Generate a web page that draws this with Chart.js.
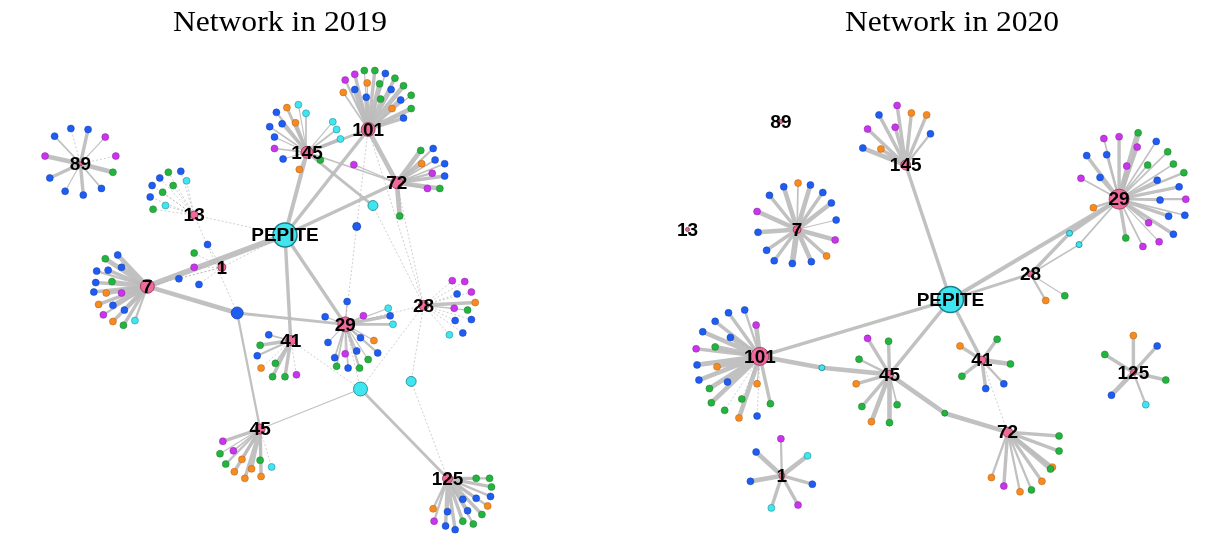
<!DOCTYPE html>
<html><head><meta charset="utf-8">
<script src="https://cdn.jsdelivr.net/npm/chart.js@4.4.0/dist/chart.umd.min.js"></script>
<style>
html,body{margin:0;padding:0;background:#fff;}
#wrap{position:relative;width:1226px;height:547px;display:flex;}
.panel{position:relative;width:613px;height:547px;}
.panel canvas{position:absolute;left:0;top:0;}
.ttl{position:absolute;top:5px;font:29px "Liberation Serif","Times New Roman",serif;color:#000;transform:translateX(-50%) scaleX(1.09);white-space:nowrap;z-index:2;}
</style></head>
<body>
<div id="wrap">
  <div class="panel"><div class="ttl" id="t0"></div><canvas id="c0" width="613" height="547"></canvas></div>
  <div class="panel"><div class="ttl" id="t1"></div><canvas id="c1" width="613" height="547"></canvas></div>
</div>
<script>
const titles=['Network in 2019','Network in 2020'];
const titleX=[280,339];

// nodes: [id, x, y, size, group]   ids starting with ~ are unlabelled
const nodes2019=[
 ['PEPITE',284,233,12,'c'],['89',70,158,2,'h'],['13',189,212,4,'h'],['145',307,146,6,'h'],
 ['101',371,122,7,'h'],['72',401,178,6,'h'],['7',140,287,7,'h'],['1',218,267,4,'h'],
 ['41',290,344,5,'h'],['45',258,437,5,'h'],['29',347,327,7.5,'h'],['28',429,307,5,'h'],
 ['125',454,489,5,'h'],
 ['~b1',234,315,6,'b'],['~c1',363,395,7,'c'],['~c2',416,387,5,'c'],['~c3',376,202,5,'c'],['~b2',359,224,4,'b']
];
// edges between named nodes: [from, to, weight]  weight 0 = weak tie
const edges2019=[
 ['PEPITE','7',5],['PEPITE','145',3.5],['PEPITE','101',3],['PEPITE','72',3],['PEPITE','41',3],['PEPITE','29',3],
 ['7','~b1',4],['~b1','29',2.5],['~b1','45',2],
 ['145','101',2.5],['145','72',1.5],['145','~c3',2.5],['101','72',4],
 ['~c1','125',2.5],['~c1','45',1],
 ['13','PEPITE',0],['13','~b1',0],['1','PEPITE',0],['1','7',0],
 ['101','~b2',0],['~b2','29',0],['~c3','28',0],['72','28',0],['101','28',0],
 ['29','~c1',0],['28','~c1',0],['28','~c2',0],['~c2','125',0],['41','~c1',0],['29','28',0]
];
// leaves: [hub, x, y, group, weight]
const leaves2019=[
 ['89',43,129,'b',1.5],['89',60,121,'b',0],['89',78,122,'b',3],['89',96,130,'p',1],['89',107,150,'p',0],['89',104,167,'g',4],
 ['89',92,184,'b',1.5],['89',73,191,'b',3],['89',54,187,'b',1],['89',38,173,'b',3],['89',33,150,'p',4],
 ['13',162,167,'g',0],['13',175,166,'b',0],['13',181,176,'c',0],['13',153,173,'b',0],['13',167,181,'g',0],
 ['13',145,181,'b',0],['13',156,188,'g',0],['13',143,193,'b',0],['13',159,202,'c',0],['13',146,206,'g',0],
 ['145',275,104,'b',2],['145',286,99,'o',2.5],['145',298,96,'c',1],['145',306,105,'c',1.5],['145',268,119,'b',1.5],
 ['145',281,116,'b',2.5],['145',295,115,'o',3],['145',273,130,'b',1],['145',273,142,'p',1.5],['145',282,153,'b',1],
 ['145',299,164,'o',1],['145',321,154,'g',1.5],['145',334,114,'c',1],['145',338,122,'c',1.5],['145',342,132,'c',3],
 ['101',347,70,'p',2],['101',357,64,'p',3],['101',367,60,'g',1],['101',378,60,'g',3],['101',389,63,'b',1.5],
 ['101',399,68,'g',3],['101',408,76,'g',4],['101',416,86,'g',1],['101',416,100,'g',4],['101',408,110,'b',3],
 ['101',345,83,'o',1.5],['101',357,80,'b',4],['101',370,73,'o',1],['101',383,74,'g',4],['101',395,80,'b',3],
 ['101',405,91,'b',4],['101',396,100,'o',4],['101',384,90,'g',1.5],['101',369,88,'b',4],
 ['72',426,144,'g',4],['72',439,142,'b',2],['72',427,158,'o',3],['72',441,154,'b',1.5],['72',451,158,'b',1.5],
 ['72',438,168,'p',2],['72',451,171,'b',3],['72',433,184,'p',2],['72',446,184,'g',4],['72',404,213,'g',4],['72',356,159,'p',1],
 ['7',96,258,'g',4],['7',109,254,'b',4],['7',87,271,'b',2],['7',99,270,'b',3],['7',113,267,'b',4],['7',86,283,'b',3],
 ['7',103,282,'g',3],['7',84,293,'b',3],['7',97,294,'o',4],['7',113,294,'p',4],['7',89,306,'o',3],['7',104,307,'b',4],
 ['7',116,312,'b',4],['7',94,317,'p',2],['7',104,324,'o',3],['7',115,328,'g',3],['7',127,323,'c',2],
 ['1',203,243,'b',0],['1',189,252,'g',0],['1',189,267,'p',0],['1',173,279,'b',0],['1',194,285,'b',0],
 ['41',267,338,'b',1.5],['41',258,349,'g',3],['41',255,360,'b',2],['41',259,373,'o',0],['41',274,368,'g',1.5],
 ['41',271,382,'g',3],['41',284,382,'g',3],['41',296,380,'p',0],
 ['45',219,450,'p',3],['45',230,460,'p',1.5],['45',216,463,'g',1],['45',222,474,'g',2],['45',239,469,'o',2],
 ['45',231,482,'o',3],['45',242,489,'o',3],['45',249,479,'o',3],['45',258,470,'g',2],['45',259,487,'o',3],['45',270,477,'c',0],
 ['29',349,303,'b',1],['29',326,319,'b',1],['29',366,318,'p',1],['29',392,310,'c',1],['29',394,318,'b',3],
 ['29',397,327,'c',2.5],['29',363,341,'b',1.5],['29',377,344,'o',1],['29',329,346,'b',1],['29',336,362,'b',1.5],
 ['29',347,358,'p',1],['29',359,355,'b',1.5],['29',381,357,'b',2],['29',371,364,'g',1],['29',338,371,'g',1.5],
 ['29',350,373,'b',1.5],['29',362,373,'g',2],
 ['28',459,281,'p',0],['28',472,282,'p',0],['28',464,295,'b',0],['28',479,293,'p',0],['28',483,304,'o',3],
 ['28',461,310,'p',1],['28',475,312,'g',1],['28',462,323,'b',0],['28',479,322,'b',0],['28',470,336,'b',0],['28',456,338,'c',0],
 ['125',484,489,'g',3],['125',498,489,'g',2],['125',500,498,'g',3],['125',484,510,'b',3],['125',499,508,'b',2],
 ['125',470,511,'b',3],['125',496,518,'o',2],['125',439,521,'o',2],['125',475,523,'b',3],['125',490,527,'g',3],
 ['125',454,524,'b',3],['125',440,534,'p',2],['125',470,534,'g',3],['125',481,537,'g',2],['125',452,539,'b',3],['125',462,543,'b',3]
];

const nodes2020=[
 ['PEPITE',339,301,13,'c'],['89',161,113,2,'h'],['13',63,227,2,'h'],['145',292,159,5,'h'],
 ['7',178,227,4,'h'],['29',516,195,10,'h'],['28',423,274,3,'h'],['101',139,361,9,'h'],
 ['45',275,380,4,'h'],['41',372,365,4,'h'],['125',531,378,3,'h'],['72',399,441,5,'h'],['1',162,487,3,'h'],
 ['~c1',204,373,3,'c'],['~g1',333,421,3,'g'],['~c2',464,231,3,'c'],['~c3',474,243,3,'c']
];
const edges2020=[
 ['PEPITE','145',3],['PEPITE','29',3.5],['PEPITE','28',2.5],['PEPITE','101',3],['PEPITE','45',3],['PEPITE','41',3],
 ['101','~c1',4],['~c1','45',4],['45','~g1',4],['~g1','72',4],
 ['28','~c2',3],['~c2','29',3],['28','~c3',1.5],['~c3','29',1.5],['41','72',0]
];
const leaves2020=[
 ['145',283,96,'p',3],['145',264,106,'b',3],['145',298,104,'o',3],['145',314,106,'o',3],['145',252,121,'p',3],
 ['145',281,119,'p',3],['145',318,126,'b',2],['145',247,141,'b',4],['145',266,142,'o',3],
 ['7',179,178,'o',1.5],['7',164,182,'b',4],['7',192,180,'b',4],['7',149,191,'b',3],['7',205,188,'b',3],
 ['7',214,199,'b',4],['7',136,208,'p',4],['7',219,217,'b',1],['7',137,230,'b',4],['7',218,238,'p',4],
 ['7',146,249,'b',3],['7',209,255,'o',3],['7',154,260,'b',3],['7',173,263,'b',5],['7',193,261,'b',4],
 ['29',500,131,'p',1.5],['29',516,129,'p',3],['29',536,125,'g',5],['29',535,140,'p',3],['29',555,134,'b',1.5],
 ['29',482,149,'b',3],['29',503,148,'b',2],['29',524,160,'p',2],['29',546,159,'g',1.5],['29',567,145,'g',1.5],
 ['29',573,158,'g',1.5],['29',584,167,'g',2],['29',476,173,'p',1.5],['29',496,172,'b',3],['29',556,175,'b',2],
 ['29',579,182,'b',3],['29',559,196,'b',2],['29',586,195,'p',2],['29',489,204,'o',2],['29',568,213,'b',3],
 ['29',585,212,'b',1.5],['29',547,220,'p',2],['29',573,232,'b',3],['29',523,236,'g',3],['29',558,240,'p',1],['29',541,245,'p',1.5],
 ['28',439,302,'o',2],['28',459,297,'g',1],
 ['101',106,315,'b',3],['101',123,312,'b',2],['101',135,328,'p',4],['101',92,324,'b',3],['101',79,335,'b',4],
 ['101',108,341,'b',4],['101',72,353,'p',3],['101',92,351,'g',4],['101',73,370,'b',4],['101',94,372,'o',4],
 ['101',75,386,'b',4],['101',105,388,'b',4],['101',86,395,'g',4],['101',136,390,'o',1],['101',88,410,'g',4],
 ['101',120,406,'g',0],['101',150,411,'g',3],['101',102,418,'g',0],['101',117,426,'o',4],['101',136,424,'b',0],
 ['45',252,342,'p',3],['45',274,345,'g',3],['45',243,364,'g',2],['45',240,390,'o',3],['45',246,414,'g',3],
 ['45',256,430,'o',4],['45',275,431,'g',4],['45',283,412,'g',1.5],
 ['41',349,350,'o',3],['41',388,343,'g',3],['41',402,369,'g',4],['41',351,382,'g',3],['41',395,390,'b',2],['41',376,395,'b',3],
 ['72',453,445,'g',3],['72',453,461,'g',3],['72',446,478,'o',3],['72',444,480,'g',4],['72',435,493,'o',3],
 ['72',424,502,'g',2],['72',412,504,'o',2],['72',395,498,'p',3],['72',382,489,'o',2],
 ['125',531,339,'o',3],['125',556,350,'b',3],['125',501,359,'g',3],['125',565,386,'g',3],['125',508,402,'b',4],['125',544,412,'c',2],
 ['1',161,448,'p',2],['1',135,462,'b',4],['1',189,466,'c',4],['1',129,493,'b',4],['1',194,496,'b',3],['1',151,521,'c',3],['1',179,518,'p',3]
];

const fill={h:'#f0699b',c:'#3fe6f0',b:'#1f5cf2',g:'#25b340',p:'#c935ea',o:'#f78b22'};
const edge={h:'#8a3556',c:'#1b7f8a',b:'#1640a8',g:'#1b7d2c',p:'#8a23a0',o:'#b06010'};

function makeChart(canvas,nodes,leaves,edges){
  const pos={}; nodes.forEach(n=>pos[n[0]]=n);
  const byW=new Map();
  const addEdge=(a,b,w)=>{
    if(!byW.has(w)) byW.set(w,[]);
    byW.get(w).push({x:a[1],y:a[2]},{x:b[1],y:b[2]},{x:null,y:null});
  };
  edges.forEach(e=>addEdge(pos[e[0]],pos[e[1]],e[2]));
  leaves.forEach(l=>addEdge(pos[l[0]],[null,l[1],l[2]],l[4]));

  const edgeSets=[...byW.entries()].sort((a,b)=>a[0]-b[0]).map(([w,data])=>({
    type:'line', data, order:5, spanGaps:false, tension:0, fill:false, pointRadius:0,
    borderColor: w===0?'rgba(175,175,175,0.75)':'rgba(188,188,188,0.92)',
    borderWidth: w===0?0.8:w*1.15, borderDash: w===0?[2,2]:[]
  }));
  const leafSet={
    data:leaves.map(l=>({x:l[1],y:l[2]})), order:1, pointRadius:3.5,
    backgroundColor:leaves.map(l=>fill[l[3]]), borderColor:leaves.map(l=>edge[l[3]]), borderWidth:0.5
  };
  const nodeSet={
    data:nodes.map(n=>({x:n[1],y:n[2]})), order:0, pointRadius:nodes.map(n=>n[3]),
    backgroundColor:nodes.map(n=>fill[n[4]]), borderColor:nodes.map(n=>edge[n[4]]),
    borderWidth:nodes.map(n=>n[0]==='PEPITE'?1.5:0.8)
  };
  const labels={id:'nodeLabels',afterDatasetsDraw(chart){
    const {ctx,scales:{x,y}}=chart;
    ctx.save();
    ctx.font='bold 19px "Liberation Sans", Arial, sans-serif';
    ctx.textAlign='center'; ctx.textBaseline='middle'; ctx.fillStyle='#000';
    nodes.forEach(n=>{ if(n[0][0]==='~') return; ctx.fillText(n[0],x.getPixelForValue(n[1]),y.getPixelForValue(n[2])+1); });
    ctx.restore();
  }};
  return new Chart(canvas,{
    type:'scatter',
    data:{datasets:[nodeSet,leafSet,...edgeSets]},
    options:{
      responsive:false, animation:false, devicePixelRatio:1,
      layout:{padding:0},
      scales:{
        x:{type:'linear',min:0,max:613,display:false},
        y:{type:'linear',min:0,max:547,reverse:true,display:false}
      },
      plugins:{legend:{display:false},tooltip:{enabled:false}},
      events:[]
    },
    plugins:[labels]
  });
}

titles.forEach((t,i)=>{ const el=document.getElementById('t'+i); el.textContent=t; el.style.left=titleX[i]+'px'; });
makeChart(document.getElementById('c0'),nodes2019,leaves2019,edges2019);
makeChart(document.getElementById('c1'),nodes2020,leaves2020,edges2020);
</script>
</body></html>
